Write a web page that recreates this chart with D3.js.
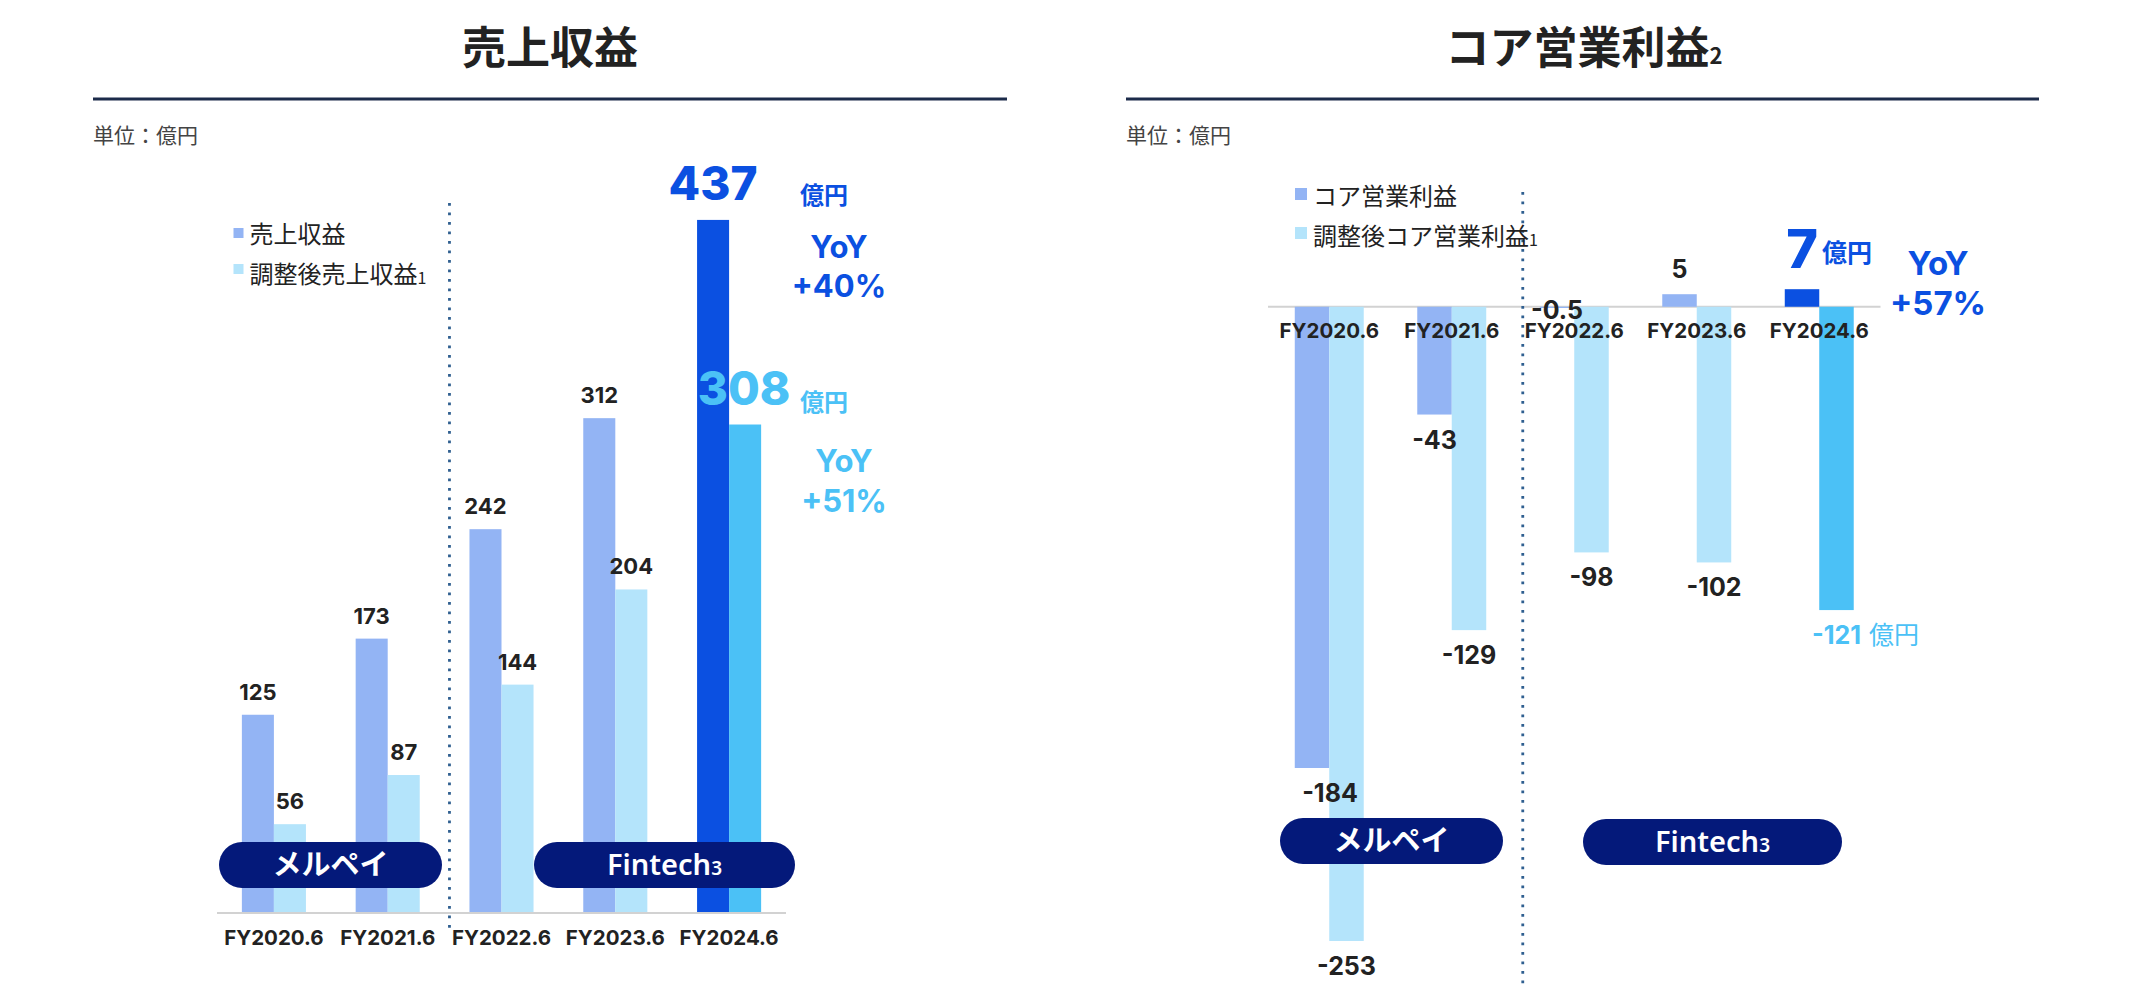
<!DOCTYPE html>
<html><head><meta charset="utf-8">
<script src="https://cdn.jsdelivr.net/npm/d3@7"></script>
<style>body{margin:0;background:#fff}svg{display:block}</style>
</head><body>
<svg id="c" width="2146" height="1002"></svg>
<script>
// ---------- data ----------
const categories = ["FY2020.6","FY2021.6","FY2022.6","FY2023.6","FY2024.6"];
const revenue = [125,173,242,312,437];
const adjRevenue = [56,87,144,204,308];
const coreOp = [-184,-43,-0.5,5,7];
const adjCoreOp = [-253,-129,-98,-102,-121];
const revenueSeries = ["売上収益","調整後売上収益"];
const profitSeries = ["コア営業利益","調整後コア営業利益"];
const segments = ["メルペイ","Fintech"];
const revenueYoY = ["+40%","+51%"];
const profitYoY = ["+57%"];
const unit = "億円";
const titles = ["売上収益","コア営業利益"];

// ---------- style ----------
const COL = {s0:"#93b4f4", s1:"#b4e4fb", hi0:"#0b50e1", hi1:"#4bc1f6",
  text:"#222222", pill:"#04197a", rule:"#1c2b4a", dot:"#2f5f90", axis:"#d2d2d2", unit:"#444"};
const JP = "'Noto Sans CJK JP','Noto Sans',sans-serif";
const NUM = "Inter,'Noto Sans',sans-serif";

const svg = d3.select("#c");
const last = categories.length - 1;

function header(g, x0, x1, title, sub, tx){
  const t = g.append("text").attr("x", tx).attr("y", 64).attr("text-anchor","middle")
    .attr("font-family", JP).attr("font-weight", 700).attr("font-size", 44).attr("fill", COL.text).text(title);
  if (sub) t.append("tspan").attr("font-size", 22).text(sub);
  g.append("line").attr("x1", x0).attr("x2", x1).attr("y1", 99).attr("y2", 99)
    .attr("stroke", COL.rule).attr("stroke-width", 3);
  g.append("text").attr("x", x0).attr("y", 143).attr("font-family", JP).attr("font-size", 21)
    .attr("fill", COL.unit).text("単位：" + unit);
}

function legend(g, x, ys, sq, names){
  names.forEach((n, i) => {
    g.append("rect").attr("x", x).attr("y", ys[i].sq).attr("width", sq).attr("height", sq)
      .attr("fill", i ? COL.s1 : COL.s0);
    const t = g.append("text").attr("x", x + sq + 6).attr("y", ys[i].t)
      .attr("font-family", JP).attr("font-size", 24).attr("fill", COL.text).text(n);
    if (i === 1) t.append("tspan").attr("font-size", 16).attr("dy", 1).text("1");
  });
}

function pill(g, x, y, w, h, label, sub){
  g.append("rect").attr("x", x).attr("y", y).attr("width", w).attr("height", h)
    .attr("rx", h/2).attr("fill", COL.pill);
  const t = g.append("text").attr("x", x + w/2).attr("y", y + h/2 + 10).attr("text-anchor","middle")
    .attr("font-family", sub ? "'Noto Sans',sans-serif" : JP).attr("font-weight", sub ? 600 : 700)
    .attr("font-size", 29).attr("fill", "#fff").text(label);
  if (sub) t.append("tspan").attr("font-size", 19).text(sub);
}

function dotted(g, x, y1, y2){
  g.append("line").attr("x1", x).attr("x2", x).attr("y1", y1).attr("y2", y2)
    .attr("stroke", COL.dot).attr("stroke-width", 2.8).attr("stroke-dasharray", "2.8 6.7");
}

function barColor(si, i){ return i === last ? (si ? COL.hi1 : COL.hi0) : (si ? COL.s1 : COL.s0); }

// =============== LEFT: 売上収益 ===============
{
  const g = svg.append("g");
  header(g, 93, 1007, titles[0], null, 550);
  const x = d3.scaleBand().domain(categories).range([217, 786]).paddingInner(0.437).paddingOuter(0.2185);
  const xs = d3.scaleBand().domain([0,1]).range([0, x.bandwidth()]);
  const y = d3.scaleLinear().domain([0, 500]).range([913, 120]);
  const series = [revenue, adjRevenue];

  dotted(g, x(categories[2]) - 20, 203, 928);
  legend(g, 233.5, [{sq:228, t:243},{sq:264, t:283}], 10, revenueSeries);

  series.forEach((vals, si) => {
    g.selectAll(null).data(vals).join("rect")
      .attr("x", (d,i) => x(categories[i]) + xs(si))
      .attr("width", xs.bandwidth())
      .attr("y", d => y(d)).attr("height", d => y(0) - y(d))
      .attr("fill", (d,i) => barColor(si, i));
  });
  series.forEach((vals, si) => {
    g.selectAll(null).data(vals.slice(0, last)).join("text")
      .attr("x", (d,i) => x(categories[i]) + xs(si) + xs.bandwidth()/2)
      .attr("y", d => y(d) - 15).attr("text-anchor","middle")
      .attr("font-family", NUM).attr("font-weight", 700).attr("font-size", 22)
      .attr("fill", COL.text).text(d => d);
  });

  // axis baseline + category labels
  g.append("line").attr("x1", 217).attr("x2", 786).attr("y1", y(0)).attr("y2", y(0))
    .attr("stroke", COL.axis).attr("stroke-width", 2);
  const ax = g.append("g").attr("transform", `translate(0,${y(0)})`)
    .call(d3.axisBottom(x).tickSize(0).tickPadding(0));
  ax.select(".domain").remove();
  ax.selectAll("text").attr("y", 32).attr("dy", 0).attr("font-family", NUM).attr("font-weight", 700)
    .attr("font-size", 20.5).attr("fill", COL.text);

  // headline values for latest year
  const cx0 = x(categories[last]) + xs(0) + xs.bandwidth()/2;
  const cx1 = x(categories[last]) + xs(1) + xs.bandwidth()/2;
  g.append("text").attr("x", cx0).attr("y", y(revenue[last]) - 20).attr("text-anchor","middle")
    .attr("font-family", NUM).attr("font-weight", 800).attr("font-size", 46).attr("fill", COL.hi0)
    .text(revenue[last]);
  g.append("text").attr("x", 800).attr("y", 204).attr("font-family", JP).attr("font-weight", 700)
    .attr("font-size", 24).attr("fill", COL.hi0).text(unit);
  g.append("text").attr("x", 839).attr("y", 258).attr("text-anchor","middle").attr("font-family", NUM)
    .attr("font-weight", 700).attr("font-size", 31).attr("fill", COL.hi0).text("YoY");
  g.append("text").attr("x", 839).attr("y", 297).attr("text-anchor","middle").attr("font-family", NUM)
    .attr("font-weight", 700).attr("font-size", 31).attr("fill", COL.hi0).text(revenueYoY[0]);

  g.append("text").attr("x", cx1 - 1).attr("y", y(adjRevenue[last]) - 20).attr("text-anchor","middle")
    .attr("font-family", NUM).attr("font-weight", 800).attr("font-size", 46).attr("fill", COL.hi1)
    .text(adjRevenue[last]);
  g.append("text").attr("x", 800).attr("y", 411).attr("font-family", JP).attr("font-weight", 700)
    .attr("font-size", 24).attr("fill", COL.hi1).text(unit);
  g.append("text").attr("x", 844).attr("y", 472).attr("text-anchor","middle").attr("font-family", NUM)
    .attr("font-weight", 700).attr("font-size", 31).attr("fill", COL.hi1).text("YoY");
  g.append("text").attr("x", 844).attr("y", 512).attr("text-anchor","middle").attr("font-family", NUM)
    .attr("font-weight", 700).attr("font-size", 31).attr("fill", COL.hi1).text(revenueYoY[1]);

  pill(g, 219, 842, 223, 46, segments[0]);
  pill(g, 534, 842, 261, 46, segments[1], "3");
}

// =============== RIGHT: コア営業利益 ===============
{
  const g = svg.append("g");
  header(g, 1126, 2039, titles[1], "2", 1584);
  const x = d3.scaleBand().domain(categories).range([1268, 1880.5]).paddingInner(0.437).paddingOuter(0.2185);
  const xs = d3.scaleBand().domain([0,1]).range([0, x.bandwidth()]);
  const y = d3.scaleLinear().domain([-300, 50]).range([1058.8, 181.4]);
  const series = [coreOp, adjCoreOp];

  g.append("line").attr("x1", 1268).attr("x2", 1880.5).attr("y1", y(0)).attr("y2", y(0))
    .attr("stroke", COL.axis).attr("stroke-width", 2);
  dotted(g, x(categories[2]) - 17, 192, 984);
  legend(g, 1295, [{sq:188, t:205},{sq:227, t:245}], 12, profitSeries);

  series.forEach((vals, si) => {
    g.selectAll(null).data(vals).join("rect")
      .attr("x", (d,i) => x(categories[i]) + xs(si))
      .attr("width", xs.bandwidth())
      .attr("y", d => Math.min(y(d), y(0))).attr("height", d => Math.abs(y(d) - y(0)))
      .attr("fill", (d,i) => barColor(si, i));
  });

  const ax = g.append("g").attr("transform", `translate(0,${y(0)})`)
    .call(d3.axisBottom(x).tickSize(0).tickPadding(0));
  ax.select(".domain").remove();
  ax.selectAll("text").attr("y", 31).attr("dy", 0).attr("font-family", NUM).attr("font-weight", 700)
    .attr("font-size", 20.5).attr("fill", COL.text);

  series.forEach((vals, si) => {
    g.selectAll(null).data(vals.slice(0, last)).join("text")
      .attr("x", (d,i) => x(categories[i]) + xs(si) + xs.bandwidth()/2 + (si === 0 && i === 0 ? 18 : 0))
      .attr("y", d => Math.abs(d) < 1 ? y(0) + 12 : (d < 0 ? y(d) + 34 : y(d) - 16))
      .attr("text-anchor","middle")
      .attr("font-family", NUM).attr("font-weight", 700).attr("font-size", 25)
      .attr("fill", COL.text).text(d => d);
  });

  const cx0 = x(categories[last]) + xs(0) + xs.bandwidth()/2;
  const cx1 = x(categories[last]) + xs(1) + xs.bandwidth()/2;
  g.append("text").attr("x", cx0).attr("y", y(coreOp[last]) - 21).attr("text-anchor","middle")
    .attr("font-family", NUM).attr("font-weight", 800).attr("font-size", 54).attr("fill", COL.hi0)
    .text(coreOp[last]);
  g.append("text").attr("x", 1822).attr("y", 262).attr("font-family", JP).attr("font-weight", 700)
    .attr("font-size", 25).attr("fill", COL.hi0).text(unit);
  g.append("text").attr("x", 1938).attr("y", 275).attr("text-anchor","middle").attr("font-family", NUM)
    .attr("font-weight", 700).attr("font-size", 33).attr("fill", COL.hi0).text("YoY");
  g.append("text").attr("x", 1938).attr("y", 315).attr("text-anchor","middle").attr("font-family", NUM)
    .attr("font-weight", 700).attr("font-size", 33).attr("fill", COL.hi0).text(profitYoY[0]);

  const lt = g.append("text").attr("y", y(adjCoreOp[last]) + 34)
    .attr("font-family", NUM).attr("font-weight", 700).attr("font-size", 25).attr("fill", COL.hi1)
    .text(adjCoreOp[last]);
  const w = lt.node().getComputedTextLength();
  lt.attr("x", cx1 - w/2);
  lt.append("tspan").attr("font-family", JP).attr("font-weight", 400).attr("dx", 8).text(unit);

  pill(g, 1280, 818, 223, 46, segments[0]);
  pill(g, 1583, 819, 259, 46, segments[1], "3");
}
</script>
</body></html>
